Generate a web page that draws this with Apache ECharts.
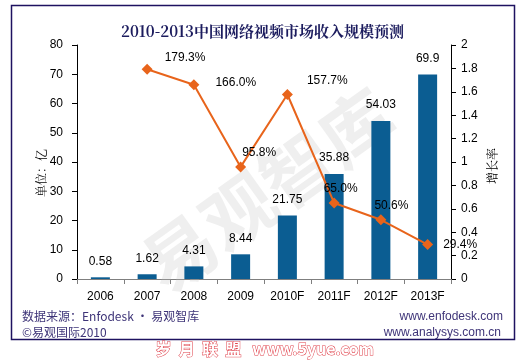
<!DOCTYPE html>
<html><head><meta charset="utf-8">
<script src="https://cdn.jsdelivr.net/npm/echarts@6/dist/echarts.min.js"></script>
<style>html,body{margin:0;padding:0;background:#fff}#c{width:525px;height:360px}</style>
</head><body><div id="c"></div>
<script>
var categories = ['2006','2007','2008','2009','2010F','2011F','2012F','2013F'];
var revenue = [0.58, 1.62, 4.31, 8.44, 21.75, 35.88, 54.03, 69.9];
var growth = [null, 1.793, 1.66, 0.958, 1.577, 0.65, 0.506, 0.294];
var growthLabels = ['', '179.3%', '166.0%', '95.8%', '157.7%', '65.0%', '50.6%', '29.4%'];
var leftTicks = [0, 80, 10];
var rightTicks = [0, 2, 0.2];

var labelOffsets = [[0,0],[4,-12],[8,-2],[-12,-14],[6,-14],[-24,-14],[-20,-14],[2,0]];
var lineData = growth.map(function(v, i){
  return {value: v, label: {offset: labelOffsets[i]}};
});

var chart = echarts.init(document.getElementById('c'));
var fontArial = 'Arial, "Liberation Sans", sans-serif';
var serifCJK = '"Noto Serif CJK SC","Noto Sans CJK SC", serif';
chart.setOption({
  animation: false,
  backgroundColor: '#fff',
  title: {
    text: '2010-2013中国网络视频市场收入规模预测',
    left: 'center', top: 19,
    textStyle: {fontSize: 15, fontWeight: 'bold', color: '#1c1c5e', fontFamily: serifCJK}
  },
  grid: {left: 77, right: 74, top: 45, bottom: 81},
  xAxis: {
    type: 'category', data: categories,
    axisLine: {lineStyle: {color: '#7f7f7f', width: 1}},
    axisTick: {show: true, alignWithLabel: false, length: 5, lineStyle: {color: '#7f7f7f'}},
    axisLabel: {color: '#000', fontSize: 12, fontFamily: fontArial, margin: 12}
  },
  yAxis: [{
    type: 'value', min: leftTicks[0], max: leftTicks[1], interval: leftTicks[2],
    axisLine: {show: true, lineStyle: {color: '#000'}},
    axisTick: {show: true, length: 5, lineStyle: {color: '#000'}},
    axisLabel: {color: '#000', fontSize: 12, fontFamily: fontArial, margin: 14},
    splitLine: {show: false}
  }, {
    type: 'value', min: rightTicks[0], max: rightTicks[1], interval: rightTicks[2],
    axisLine: {show: true, lineStyle: {color: '#000'}},
    axisTick: {show: true, length: 5, lineStyle: {color: '#000'}},
    axisLabel: {color: '#000', fontSize: 12, fontFamily: fontArial, margin: 10},
    splitLine: {show: false}
  }],
  graphic: [
    {type: 'rect', shape: {x: 11.5, y: 5.5, width: 503, height: 334}, style: {fill: 'none', stroke: '#1e1260', lineWidth: 1.5}, z: 0},
    {type: 'text', x: 268, y: 190, rotation: 0.62, z: 1,
     style: {text: '易观智库', fontSize: 72, fontWeight: 'bold', align: 'center', verticalAlign: 'middle', fill: 'rgba(190,190,190,0.25)', fontFamily: '"Noto Sans CJK SC", sans-serif'}},
    {type: 'text', x: 41, y: 173, rotation: Math.PI / 2,
     style: {text: '单位：亿', fontSize: 12, align: 'center', verticalAlign: 'middle', fill: '#000', fontFamily: serifCJK}},
    {type: 'text', x: 492, y: 166, rotation: Math.PI / 2,
     style: {text: '增长率', fontSize: 12, align: 'center', verticalAlign: 'middle', fill: '#000', fontFamily: serifCJK}},
    {type: 'text', left: 22, top: 310, style: {text: '数据来源：Enfodesk · 易观智库', fontSize: 12, fill: '#3e3478', fontFamily: '"Noto Sans CJK SC", Arial, sans-serif'}},
    {type: 'text', left: 22, top: 326, style: {text: '©易观国际2010', fontSize: 12, fill: '#3e3478', fontFamily: '"Noto Sans CJK SC", Arial, sans-serif'}},
    {type: 'text', right: 22, top: 311, style: {text: 'www.enfodesk.com', fontSize: 12, fill: '#3e3478', fontFamily: fontArial}},
    {type: 'text', right: 24, top: 327, style: {text: 'www.analysys.com.cn', fontSize: 12, fill: '#3e3478', fontFamily: fontArial}},
    {type: 'text', left: 155, top: 340, z: 10, style: {text: '岁  月  联  盟   www.5yue.com', fontSize: 16, fontWeight: 'bold', fill: '#ffffff', stroke: '#e0404a', lineWidth: 1, fontFamily: '"Noto Sans CJK SC", sans-serif'}}
  ],
  series: [{
    type: 'bar', data: revenue, barWidth: 19, yAxisIndex: 0,
    itemStyle: {color: '#0b5d92'},
    label: {show: true, position: 'top', distance: 10, color: '#000', fontSize: 12, fontFamily: fontArial}
  }, {
    type: 'line', data: lineData, yAxisIndex: 1,
    symbol: 'diamond', symbolSize: 11,
    lineStyle: {color: '#e8641b', width: 2},
    itemStyle: {color: '#e8641b'},
    label: {show: true, position: 'right', distance: 8, color: '#000', fontSize: 12, fontFamily: fontArial,
      formatter: function(p){ return growthLabels[p.dataIndex]; }},
    z: 5
  }]
});
</script></body></html>
